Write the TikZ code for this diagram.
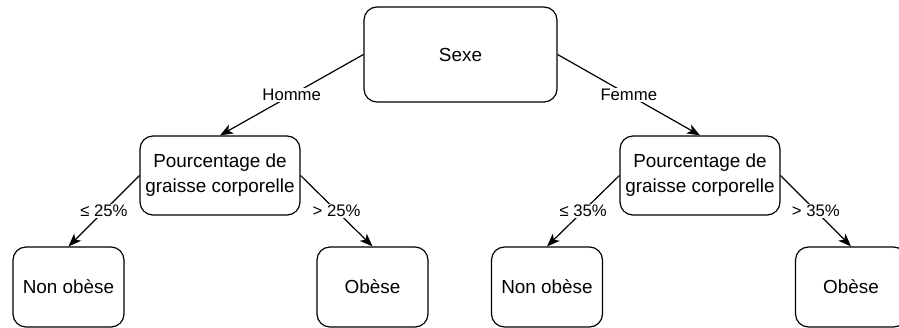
\documentclass[tikz,border=0pt]{standalone}
\usepackage{fontspec}
\setmainfont{Liberation Sans}
\usetikzlibrary{arrows.meta}
\begin{document}
\begin{tikzpicture}[x=1pt,y=-1pt,
  box/.style={draw, line width=1.2pt, rounded corners=13pt, align=center,
    inner sep=0pt, font=\fontsize{18.9}{25}\selectfont},
  link/.style={draw, line width=1.2pt, -{Stealth[length=13pt,width=10pt,inset=3.5pt]}},
  tag/.style={midway, fill=white, inner sep=1.5pt, font=\fontsize{16.7}{20}\selectfont}]
\useasboundingbox (0,0) rectangle (899,327);

% decision nodes
\node[box, minimum width=193pt, minimum height=95pt] (sexe) at (460.5,54.5) {Sexe};
\node[box, minimum width=160pt, minimum height=79pt] (pg) at (220,175.5) {Pourcentage de\\graisse corporelle};
\node[box, minimum width=160pt, minimum height=79pt] (pd) at (700,175.5) {Pourcentage de\\graisse corporelle};

% leaves
\node[box, minimum width=111pt, minimum height=80pt] (ng) at (68.5,287) {Non obèse};
\node[box, minimum width=111pt, minimum height=80pt] (og) at (372.5,287) {Obèse};
\node[box, minimum width=111pt, minimum height=80pt] (nd) at (547,287) {Non obèse};
\node[box, minimum width=111pt, minimum height=80pt] (od) at (851,287) {Obèse};

% branches
\draw[link] (sexe.west) -- node[tag] {Homme} (pg.north);
\draw[link] (sexe.east) -- node[tag] {Femme} (pd.north);
\draw[link] (pg.west) -- node[tag] {≤ 25\%} (ng.north);
\draw[link] (pg.east) -- node[tag] {> 25\%} (og.north);
\draw[link] (pd.west) -- node[tag] {≤ 35\%} (nd.north);
\draw[link] (pd.east) -- node[tag] {> 35\%} (od.north);
\end{tikzpicture}
\end{document}
